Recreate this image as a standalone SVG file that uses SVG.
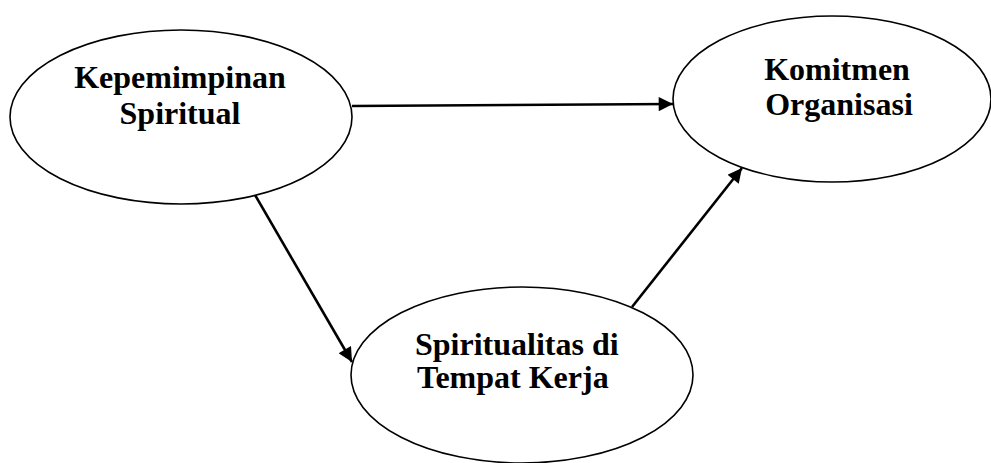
<svg xmlns="http://www.w3.org/2000/svg" width="991" height="463" viewBox="0 0 991 463">
  <style>
    .node ellipse { fill: #ffffff; stroke: #000000; stroke-width: 1.6; }
    .node text { font-family: "Liberation Serif", "Times New Roman", serif; font-weight: bold; font-size: 32px; fill: #000000; }
    .edge { stroke: #000000; stroke-width: 2.6; fill: none; marker-end: url(#arrow); }
  </style>
  <defs>
    <marker id="arrow" viewBox="0 0 10 10" refX="10" refY="5" markerWidth="6.5" markerHeight="5.5" markerUnits="strokeWidth" orient="auto">
      <path d="M0,0 L10,5 L0,10 Z" fill="#000000"/>
    </marker>
  </defs>

  <g id="connectors">
    <line class="edge" x1="352" y1="106" x2="673" y2="104"/>
    <line class="edge" x1="255" y1="195" x2="352" y2="362"/>
    <line class="edge" x1="632" y1="307" x2="742" y2="168"/>
  </g>

  <g id="kepemimpinan-spiritual" class="node">
    <ellipse cx="181" cy="117" rx="171" ry="87"/>
    <text x="180" y="88" text-anchor="middle">Kepemimpinan</text>
    <text x="180" y="124" text-anchor="middle">Spiritual</text>
  </g>

  <g id="komitmen-organisasi" class="node">
    <ellipse cx="832" cy="99" rx="159" ry="83"/>
    <text x="837" y="80" text-anchor="middle">Komitmen</text>
    <text x="839" y="115" text-anchor="middle">Organisasi</text>
  </g>

  <g id="spiritualitas-tempat-kerja" class="node">
    <ellipse cx="522" cy="375" rx="171" ry="88"/>
    <text x="415" y="355">Spiritualitas di</text>
    <text x="417" y="388">Tempat Kerja</text>
  </g>
</svg>
